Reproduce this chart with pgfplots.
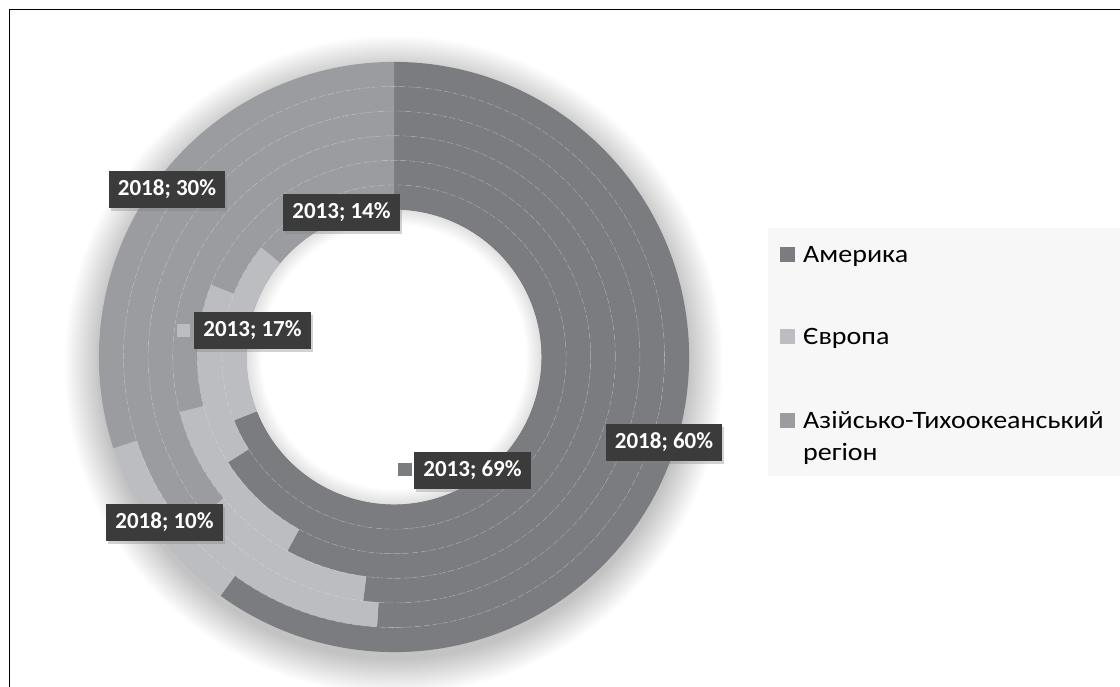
\documentclass[border=0pt]{standalone}
\usepackage{pgfplots}
\pgfplotsset{compat=1.18}
\usepackage{pgfplotstable}
\usetikzlibrary{calc,shadows}
\usepackage{fontspec}
\setmainfont{Carlito}

\definecolor{amer}{HTML}{7B7C80}
\definecolor{eur}{HTML}{BCBDC1}
\definecolor{asia}{HTML}{9B9CA0}
\definecolor{lbl}{HTML}{3B3B3B}
\definecolor{legbg}{HTML}{F7F7F7}

% share of each region, inner ring = 2013, outer ring = 2018
\pgfplotstableread{
year amer eur asia
2013 69 17 14
2014 66 15 19
2015 58 13 29
2016 52 12 36
2017 51 13 36
2018 60 10 30
}\shares

% annular sector: colour, start angle, end angle, inner r, outer r
\newcommand{\sector}[5]{%
  \fill[#1] ($(axis cs:0,0)+(#2:#5pt)$) arc[start angle=#2,end angle=#3,radius=#5pt]
    -- ($(axis cs:0,0)+(#3:#4pt)$) arc[start angle=#3,end angle=#2,radius=#4pt] -- cycle;}

\begin{document}
\begin{tikzpicture}[x=1pt,y=1pt,
    lab/.style={fill=lbl, text=white, font=\bfseries\fontsize{23}{27}\selectfont,
      inner xsep=9pt, inner ysep=0pt, minimum height=37pt,
      drop shadow={opacity=0.35, shadow xshift=2pt, shadow yshift=-3pt}},
    leg/.style={anchor=base west, inner sep=0pt, font=\fontsize{25}{30}\selectfont, xscale=1.12}]
  \path[use as bounding box, fill=white] (0,0) rectangle (1120,-686);
  \draw[line width=1.6pt] (9.5,-700) -- (9.5,-9.5) -- (1130,-9.5);

  % legend
  \fill[legbg] (768,-228) rectangle (1125,-476);
  \fill[amer] (780,-247) rectangle (795,-262);
  \node[leg] at (803,-262) {Америка};
  \fill[eur] (780,-329) rectangle (795,-344);
  \node[leg] at (803,-344) {Європа};
  \fill[asia] (780,-413) rectangle (795,-428);
  \node[leg] at (803,-428) {Азійсько-Тихоокеанський};
  \node[leg] at (803,-460) {регіон};

  \begin{axis}[x=1pt, y=1pt, xmin=-300, xmax=300, ymin=-300, ymax=300,
      hide axis, clip=false, anchor=origin, at={(394,-357)}]
    % soft shadow
    \pgfplotsinvokeforeach{1,...,20}{%
      \fill[black, opacity=0.01] (axis cs:0,-8) circle[radius={293pt+1.8pt*#1}];
    }
    \fill[white] (axis cs:0,0) circle[radius=147.5pt];

    % rings
    \pgfplotsinvokeforeach{0,...,5}{%
      \pgfplotstablegetelem{#1}{amer}\of\shares \let\pa\pgfplotsretval
      \pgfplotstablegetelem{#1}{eur}\of\shares \let\pe\pgfplotsretval
      \pgfmathsetmacro\ri{147.5+24.6*#1}
      \pgfmathsetmacro\ro{\ri+24.6}
      \pgfmathsetmacro\aA{90-3.6*\pa}
      \pgfmathsetmacro\aE{\aA-3.6*\pe}
      \edef\temp{%
        \noexpand\sector{amer}{90}{\aA}{\ri}{\ro}%
        \noexpand\sector{eur}{\aA}{\aE}{\ri}{\ro}%
        \noexpand\sector{asia}{\aE}{-270}{\ri}{\ro}%
      }\temp
    }

    % inner shadow of the hole
    \pgfplotsinvokeforeach{1,...,10}{%
      \fill[black, opacity=0.01, even odd rule] (axis cs:0,0) circle[radius=147.5pt]
        circle[radius={147.5pt-1.5pt*#1}];
    }

    % faint dashed ring separators
    \pgfplotsinvokeforeach{1,...,5}{%
      \draw[white, opacity=0.25, line width=0.6pt, dash pattern=on 6pt off 3pt]
        (axis cs:0,0) circle[radius={147.5pt+24.6pt*#1}];
    }

    % data labels
    \node[lab] at (axis cs:-227,168) {2018; 30\%};
    \node[lab] at (axis cs:-52.5,144.5) {2013; 14\%};
    \fill[eur] (axis cs:-217.5,20) rectangle (axis cs:-204,33.5);
    \node[lab] at (axis cs:-141.5,27) {2013; 17\%};
    \node[lab] at (axis cs:270,-85) {2018; 60\%};
    \fill[amer] (axis cs:4,-119) rectangle (axis cs:17.5,-105.5);
    \node[lab] at (axis cs:78.5,-113.5) {2013; 69\%};
    \node[lab] at (axis cs:-229.5,-165.5) {2018; 10\%};
  \end{axis}
\end{tikzpicture}
\end{document}
